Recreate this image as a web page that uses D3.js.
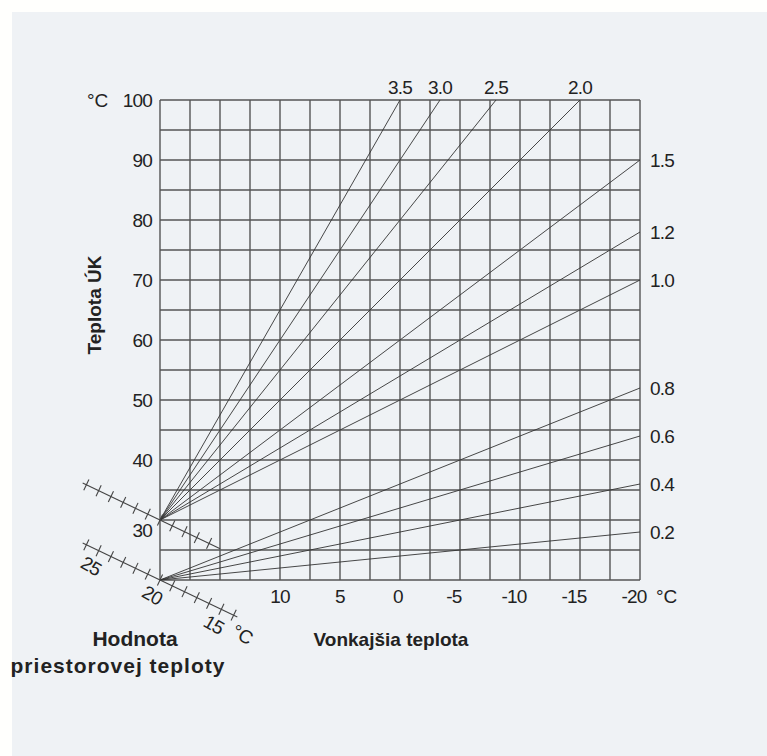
<!DOCTYPE html>
<html>
<head>
<meta charset="utf-8">
<script src="https://cdn.jsdelivr.net/npm/d3@7"></script>
<style>
  html, body { margin: 0; padding: 0; background: #fffffd; }
  svg { display: block; }
  text { font-family: "Liberation Sans", Arial, sans-serif; fill: #222; }
</style>
</head>
<body>
<script>
// Heating curves: flow temperature vs. outdoor temperature
const outdoorTicks = [10, 5, 0, -5, -10, -15, -20];
const flowTicks = [100, 90, 80, 70, 60, 50, 40, 30];
const curveLabels = ["3.5", "3.0", "2.5", "2.0", "1.5", "1.2", "1.0", "0.8", "0.6", "0.4", "0.2"];
const curveSlopes = [3.5, 3.0, 2.5, 2.0, 1.5, 1.2, 1.0, 0.8, 0.6, 0.4, 0.2];
const curveStartFlow = [30, 30, 30, 30, 30, 30, 30, 20, 20, 20, 20];
const roomScaleLabels = ["25", "20", "15"];
const roomScaleValues = [25, 20, 15];

const W = 767, H = 756;
const svg = d3.select("body").append("svg").attr("width", W).attr("height", H);

svg.append("rect").attr("x", 12).attr("y", 12).attr("width", W - 12).attr("height", H - 12)
  .attr("fill", "#eff2f5");

const x = d3.scaleLinear().domain([20, -20]).range([160, 640]);
const y = d3.scaleLinear().domain([20, 100]).range([580, 100]);

const gridColor = "#555";
const grid = svg.append("g");
grid.selectAll("line.h").data(d3.range(20, 100.1, 5)).join("line")
  .attr("x1", x(20)).attr("x2", x(-20))
  .attr("y1", d => y(d)).attr("y2", d => y(d))
  .attr("stroke", gridColor).attr("stroke-width", 1.4);
grid.selectAll("line.v").data(d3.range(20, -20.1, -2.5)).join("line")
  .attr("y1", y(20)).attr("y2", y(100))
  .attr("x1", d => x(d)).attr("x2", d => x(d))
  .attr("stroke", gridColor).attr("stroke-width", 1.4);

// curves: flow = start + slope * (20 - outdoor), clipped to the chart frame
const curves = curveSlopes.map((s, i) => {
  const f0 = curveStartFlow[i];
  let tEnd = -20, fEnd = f0 + s * 40;
  if (fEnd > 100) { fEnd = 100; tEnd = 20 - (100 - f0) / s; }
  return { label: curveLabels[i], f0, tEnd, fEnd };
});

svg.append("g").selectAll("line").data(curves).join("line")
  .attr("x1", x(20)).attr("y1", d => y(d.f0))
  .attr("x2", d => x(d.tEnd)).attr("y2", d => y(d.fEnd))
  .attr("stroke", "#333").attr("stroke-width", 0.9);

const numFont = 19;
svg.append("g").selectAll("text").data(curves).join("text")
  .attr("font-size", numFont).attr("letter-spacing", -0.8)
  .attr("x", d => d.fEnd >= 100 ? x(d.tEnd) : 650)
  .attr("y", d => d.fEnd >= 100 ? 94 : y(d.fEnd) + 7)
  .attr("text-anchor", d => d.fEnd >= 100 ? "middle" : "start")
  .text(d => d.label);

// flow temperature axis
svg.append("g").selectAll("text").data(flowTicks).join("text")
  .attr("font-size", numFont).attr("letter-spacing", -0.8)
  .attr("x", 152).attr("y", d => y(d) + (d === 30 ? 17 : 7))
  .attr("text-anchor", "end").text(d => d);
svg.append("text").attr("font-size", numFont).attr("x", 87).attr("y", y(100) + 7).text("°C");

// outdoor temperature axis
svg.append("g").selectAll("text").data(outdoorTicks).join("text")
  .attr("font-size", numFont).attr("letter-spacing", -0.8)
  .attr("x", d => x(d) + (d < 0 ? -6 : (d === 0 ? -2 : 0))).attr("y", 603)
  .attr("text-anchor", "middle").text(d => d);
svg.append("text").attr("font-size", numFont).attr("x", 656).attr("y", 603).text("°C");

// room temperature shift scales (diagonal)
const ang = 25.5 * Math.PI / 180;
const step = 13.6;
const ux = Math.cos(ang), uy = Math.sin(ang);
function roomScale(ox, oy, from, to, lineFrom, lineTo) {
  const g = svg.append("g").attr("stroke", "#444").attr("stroke-width", 1.1);
  g.append("line")
    .attr("x1", ox + lineFrom * step * ux).attr("y1", oy + lineFrom * step * uy)
    .attr("x2", ox + lineTo * step * ux).attr("y2", oy + lineTo * step * uy);
  g.selectAll("line.t").data(d3.range(from, to + 1)).join("line")
    .attr("x1", k => ox + k * step * ux + 6 * uy).attr("y1", k => oy + k * step * uy - 6 * ux)
    .attr("x2", k => ox + k * step * ux - 6 * uy).attr("y2", k => oy + k * step * uy + 6 * ux);
}
roomScale(x(20), y(30), -6, 4, -6.3, 4.9);
roomScale(x(20), y(20), -6, 6, -6.3, 6.3);

const ox = x(20), oy = y(20);
svg.append("g").selectAll("text").data(roomScaleValues).join("text")
  .attr("font-size", numFont).attr("letter-spacing", -0.8)
  .attr("text-anchor", "middle")
  .attr("transform", (d) => {
    const k = 20 - d;
    const px = ox + k * step * ux - 11, py = oy + k * step * uy + 21;
    return `translate(${px},${py}) rotate(30)`;
  })
  .text((d, i) => roomScaleLabels[i]);
svg.append("text").attr("font-size", numFont).attr("text-anchor", "middle")
  .attr("transform", `translate(${ox + 6.2 * step * ux + 3},${oy + 6.2 * step * uy + 24}) rotate(30)`)
  .text("°C");

// axis titles
svg.append("text").attr("font-size", 19).attr("font-weight", "bold")
  .attr("text-anchor", "middle")
  .attr("transform", "translate(101,305) rotate(-90)").text("Teplota ÚK");
svg.append("text").attr("font-size", 21).attr("font-weight", "bold")
  .attr("text-anchor", "middle").attr("x", 135).attr("y", 646).text("Hodnota");
svg.append("text").attr("font-size", 21).attr("font-weight", "bold").attr("letter-spacing", 1)
  .attr("text-anchor", "middle").attr("x", 118).attr("y", 673).text("priestorovej teploty");
svg.append("text").attr("font-size", 19).attr("font-weight", "bold")
  .attr("text-anchor", "middle").attr("x", 391).attr("y", 646).text("Vonkajšia teplota");
</script>
</body>
</html>
